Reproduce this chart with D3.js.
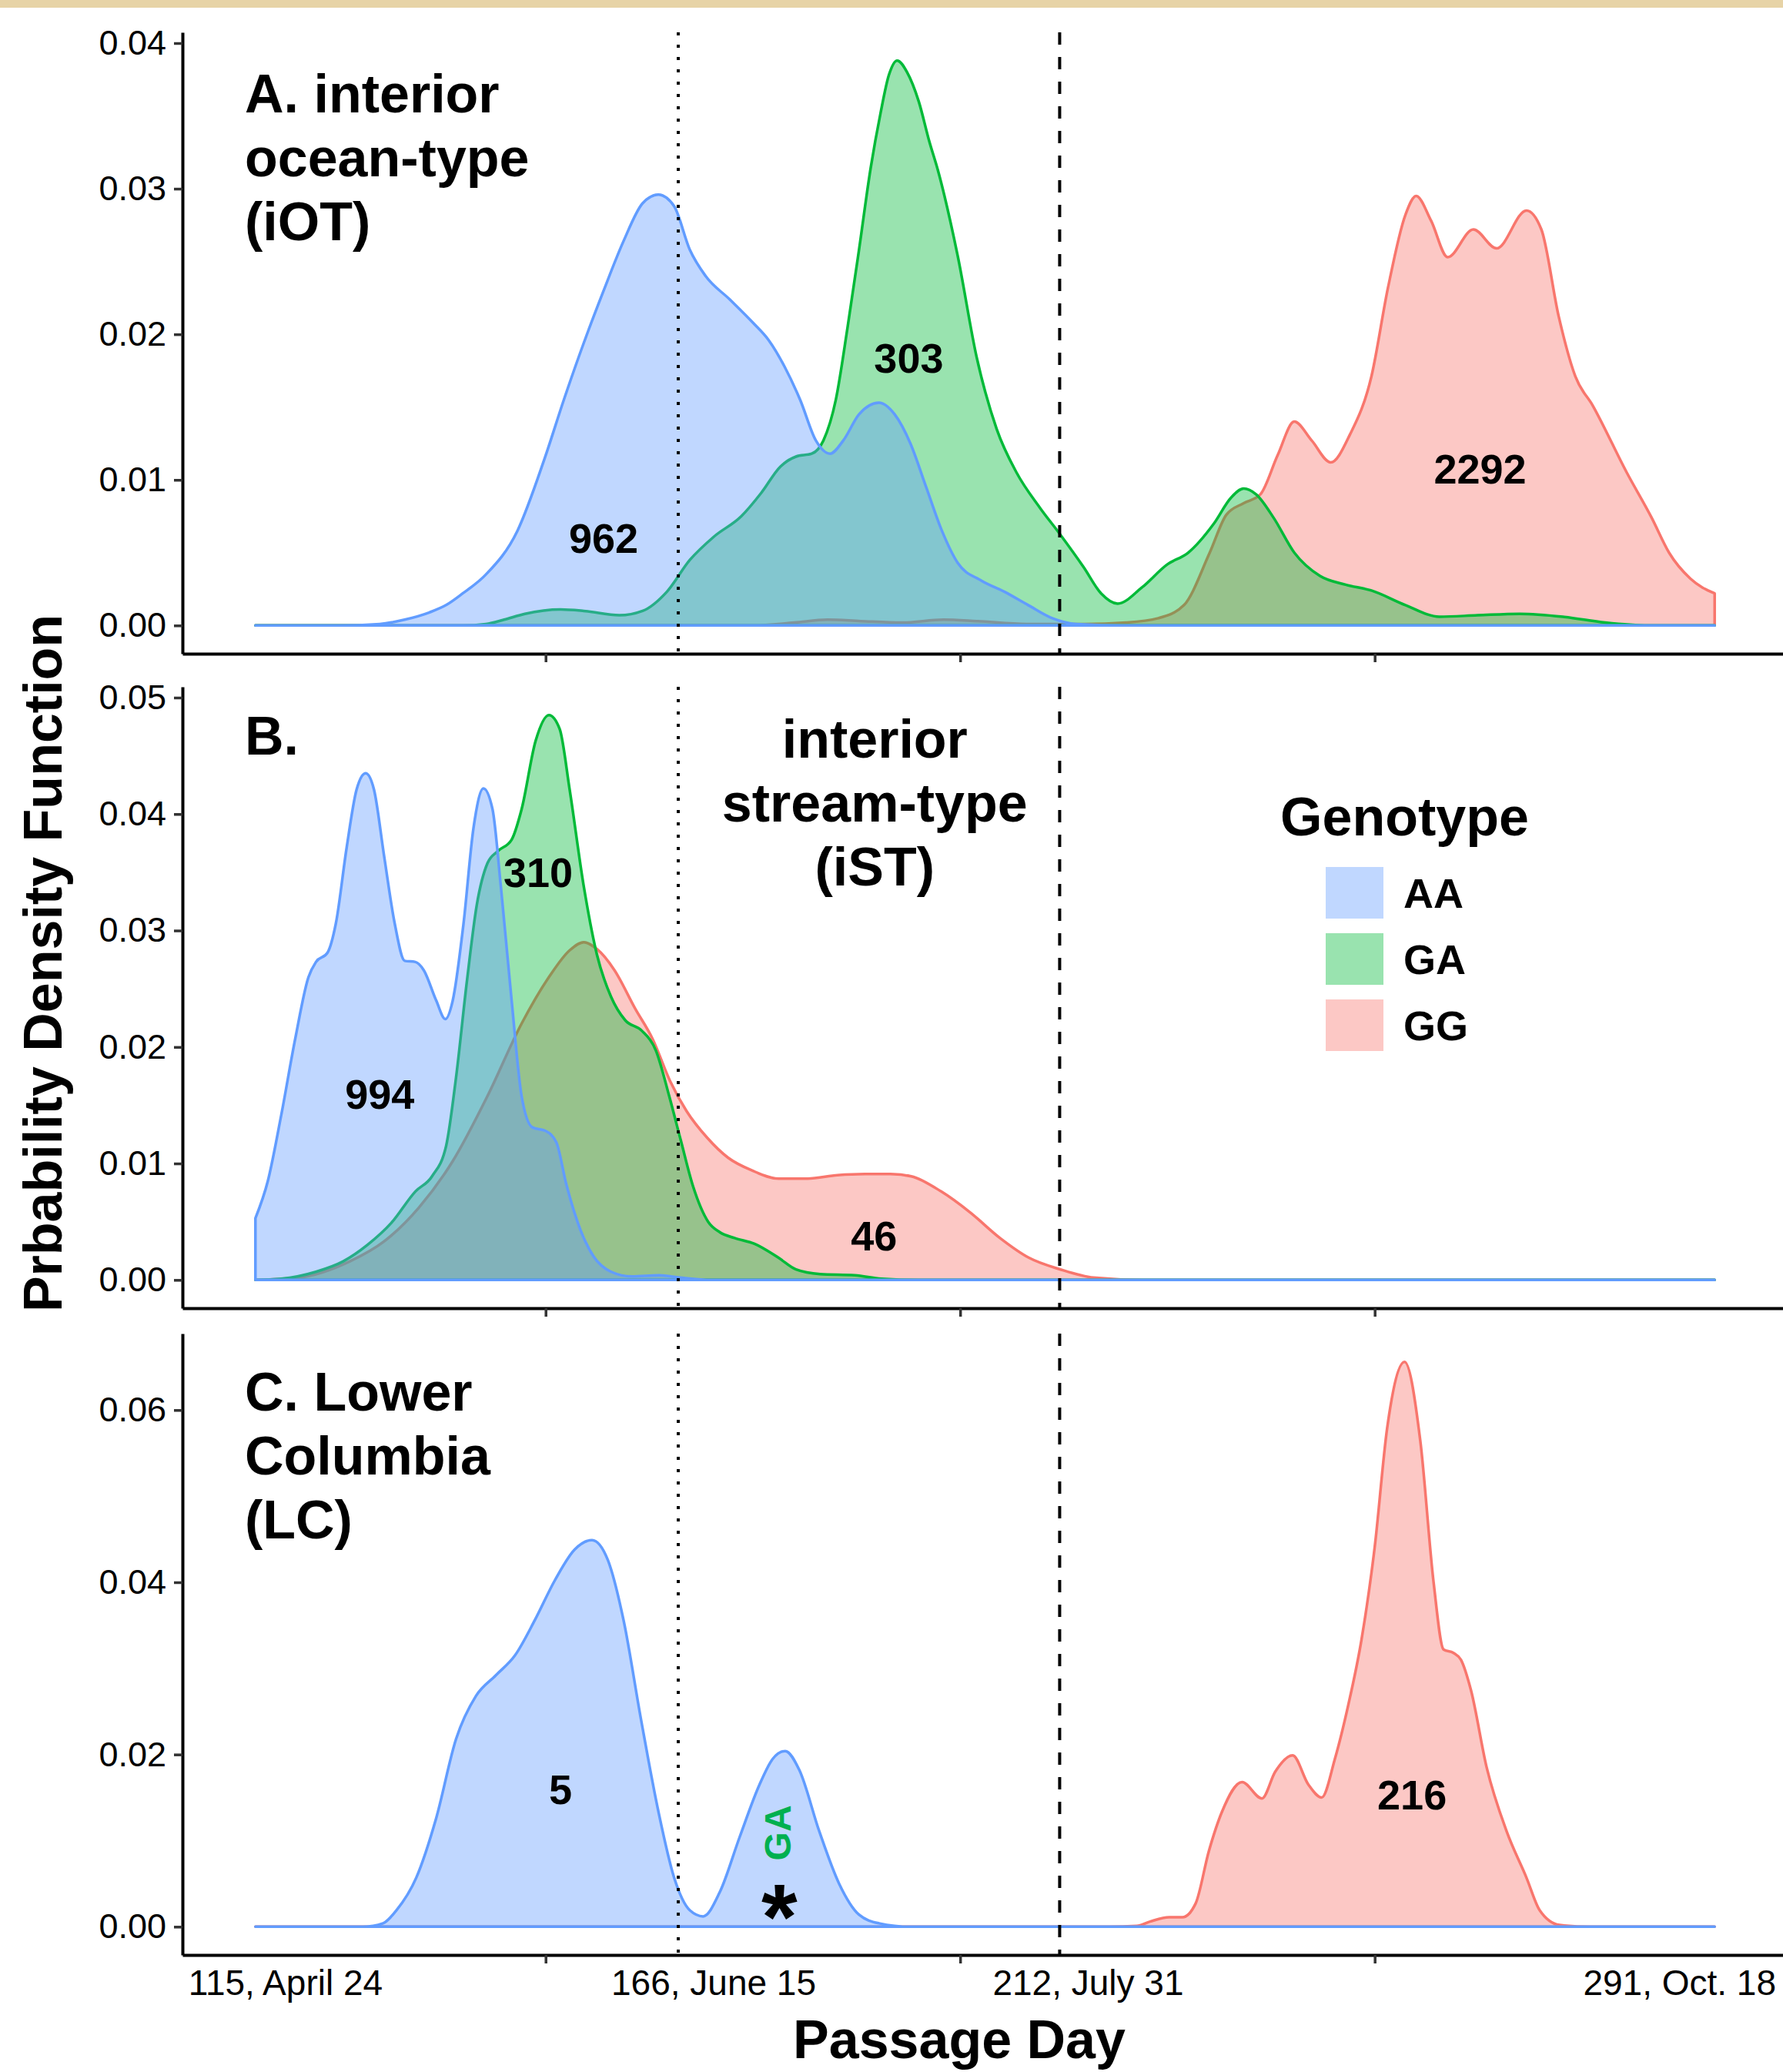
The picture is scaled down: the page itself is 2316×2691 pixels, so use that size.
<!DOCTYPE html>
<html>
<head>
<meta charset="utf-8">
<script src="https://cdn.jsdelivr.net/npm/d3@7"></script>
<style>
  body { margin: 0; background: #fff; }
  svg { display: block; }
  text { font-family: "Liberation Sans", Arial, Helvetica, sans-serif; }
</style>
</head>
<body>
<div id="chart"></div>
<script>
// genotype order (legend) and ggplot default hues
const genotypes = ["AA", "GA", "GG"];
const genoColors = { AA: "#619CFF", GA: "#00BA38", GG: "#F8766D" };

// [passage day, density]
// Panel A: interior ocean-type
const iotAA = [[115,0],[125,0],[130,0.0001],[133,0.0004],[136,0.0009],[138,0.0014],[140,0.0022],[142.8,0.0035],[146.6,0.0065],[149.9,0.0115],[152.2,0.0155],[154.6,0.0194],[157,0.0230],[159.4,0.0264],[161.7,0.0290],[163.6,0.0296],[165.5,0.0288],[167.4,0.0258],[169.3,0.0240],[172.2,0.0224],[175,0.0208],[176.9,0.0196],[178.8,0.0178],[180.7,0.0155],[182.6,0.0127],[184.3,0.0118],[185.9,0.0127],[187.8,0.0145],[190.2,0.0153],[192.1,0.0145],[194,0.0125],[195.9,0.0095],[197.8,0.0065],[199.7,0.0043],[202.5,0.0031],[205.4,0.0023],[208.2,0.0014],[211.1,0.0005],[214,0.0001],[220,0],[291,0]];
const iotGA = [[115,0],[140,0],[142.8,0.0001],[145,0.0004],[147.5,0.0008],[151.8,0.0011],[154.6,0.0010],[158.9,0.0007],[161.7,0.0010],[164.6,0.0023],[167.4,0.0045],[170.3,0.0061],[173.6,0.0075],[176,0.0091],[178.3,0.0109],[180.2,0.0116],[182.1,0.0118],[183.5,0.0127],[185,0.0155],[186.4,0.0204],[187.8,0.0258],[189.2,0.0314],[190.4,0.0352],[191.4,0.0378],[192.4,0.0388],[193.6,0.0380],[195,0.0360],[196.3,0.0332],[197.3,0.0313],[199.7,0.0254],[202,0.0184],[204.4,0.0135],[206.8,0.0105],[209.6,0.0081],[212,0.0063],[214.9,0.0040],[217,0.0022],[219,0.0015],[221.9,0.0026],[225,0.0042],[227.5,0.0050],[230.6,0.0070],[232.7,0.0088],[234.2,0.0094],[235.7,0.0090],[237.8,0.0074],[240.3,0.0050],[243.4,0.0034],[246.5,0.0028],[249.6,0.0024],[253.7,0.0014],[257.8,0.0006],[262.4,0.0007],[267.5,0.0008],[272.7,0.0006],[277.8,0.0002],[283,0],[291,0]];
const iotGG = [[115,0],[175,0],[180,0.0002],[184,0.0004],[188,0.0003],[193,0.0002],[198,0.0004],[202,0.0003],[208,0.0001],[215,0.0001],[220,0.0002],[223.9,0.0005],[227,0.0014],[230.1,0.0050],[232.1,0.0076],[234.2,0.0084],[236.2,0.0090],[238.3,0.0117],[240.3,0.0140],[242.4,0.0127],[244.7,0.0112],[247,0.0131],[249.6,0.0171],[251.6,0.0232],[253.7,0.0282],[255,0.0295],[256.8,0.0278],[258.8,0.0253],[261.9,0.0272],[264.7,0.0259],[268.3,0.0285],[270.1,0.0272],[272.2,0.0212],[274.2,0.0171],[276.3,0.0151],[280.4,0.0105],[283.4,0.0074],[285.5,0.0050],[288.1,0.0032],[291,0.0022]];

// Panel B: interior stream-type
const istAA = [[115,0.0053],[116.5,0.0085],[118.1,0.0141],[119.8,0.0207],[121.4,0.0260],[122.3,0.0273],[123.7,0.0281],[124.7,0.0306],[126,0.0371],[127.2,0.0421],[128.3,0.0435],[129.3,0.0421],[130.5,0.0365],[131.8,0.0306],[133,0.0274],[134.3,0.0273],[135.3,0.0266],[136.8,0.0240],[137.9,0.0224],[138.8,0.0240],[140.1,0.0306],[141.3,0.0388],[142.5,0.0422],[143.6,0.0404],[144.6,0.0338],[145.9,0.0240],[147.1,0.0158],[148.4,0.0131],[150,0.0128],[151.3,0.0118],[152.5,0.0082],[154.2,0.0043],[155.8,0.0020],[157.9,0.0007],[160.4,0.0003],[163.7,0.0004],[166.2,0.0002],[170,0],[291,0]];
const istGA = [[115,0],[118.1,0.0001],[122.3,0.0007],[125.6,0.0016],[128.5,0.0030],[131.4,0.0049],[134.3,0.0076],[136.3,0.0089],[138,0.0115],[139.2,0.0174],[140.5,0.0256],[141.7,0.0322],[143,0.0358],[144.2,0.0368],[145.9,0.0378],[147.1,0.0404],[148.8,0.0463],[150.4,0.0485],[151.7,0.0473],[152.9,0.0421],[154.6,0.0338],[156.2,0.0279],[157.9,0.0243],[159.6,0.0223],[161.6,0.0214],[163.3,0.0197],[164.9,0.0158],[166.3,0.0120],[167.8,0.0080],[169.6,0.0050],[171,0.0041],[172.8,0.0036],[175.2,0.0031],[178.1,0.0019],[180.2,0.0009],[183.1,0.0005],[187.3,0.0004],[190.5,0.0001],[195,0],[291,0]];
const istGG = [[115,0],[120.2,0.0002],[126.4,0.0016],[130.5,0.0033],[134.7,0.0062],[138.8,0.0102],[143,0.0158],[147.1,0.0220],[150.4,0.0260],[152.9,0.0283],[154.6,0.0290],[156.2,0.0284],[158.3,0.0266],[160.8,0.0233],[162.9,0.0207],[165,0.0171],[167,0.0145],[169.5,0.0122],[172,0.0105],[174.9,0.0094],[178.1,0.0087],[181.6,0.0087],[185.2,0.0090],[188.5,0.0091],[191.6,0.0091],[194.1,0.0089],[197.7,0.0076],[201.2,0.0058],[204.8,0.0036],[208.3,0.0019],[212.1,0.0009],[216.1,0.0002],[222,0],[291,0]];

// Panel C: Lower Columbia
const lcAA = [[115,0],[128,0],[130.4,0.0004],[132,0.0019],[134.4,0.0057],[136.8,0.0126],[139.2,0.0218],[141.6,0.0268],[144,0.0292],[146.3,0.0315],[148.7,0.0356],[151.1,0.0402],[153.5,0.0438],[155.6,0.0449],[157.5,0.0426],[159.4,0.0356],[161.5,0.0241],[163.6,0.0134],[165.5,0.0057],[167.4,0.0019],[169,0.0012],[171,0.0040],[173.4,0.0104],[175.8,0.0165],[177.4,0.0195],[178.9,0.0204],[180.6,0.0182],[183,0.0111],[185.4,0.0050],[187.8,0.0014],[190.2,0.0004],[194,0],[291,0]];
const lcGG = [[115,0],[218,0],[221.3,0.0001],[222.9,0.0006],[225.2,0.0011],[226.8,0.0011],[228.4,0.0027],[230,0.0088],[231.6,0.0134],[234,0.0168],[236.4,0.0149],[238,0.0180],[240.1,0.0199],[242,0.0165],[243.6,0.0150],[245.2,0.0195],[246.8,0.0257],[248.4,0.0333],[250,0.0441],[251.5,0.0579],[253.6,0.0656],[255.5,0.0564],[257.1,0.0400],[258.3,0.0322],[259.5,0.0318],[260.4,0.0310],[261.6,0.0275],[263.5,0.0185],[265.9,0.0111],[268.3,0.0057],[269.9,0.0019],[272.3,0.0002],[276,0],[291,0]];

// y tick values per panel
const yTicksA = [0, 0.01, 0.02, 0.03, 0.04];
const yTicksB = [0, 0.01, 0.02, 0.03, 0.04, 0.05];
const yTicksC = [0, 0.02, 0.04, 0.06];

// x axis: unlabelled tick marks, plus date labels
const xTickMarks = [150, 200, 250];
const xLabelDays = [115, 166, 212, 291];
const xLabels = ["115, April 24", "166, June 15", "212, July 31", "291, Oct. 18"];

// reference days (vertical lines)
const dottedDay = 166;
const dashedDay = 212;

// sample sizes: [day, density, text]
const countsA = [[157.0, 0.0060, "962"], [193.8, 0.0184, "303"], [262.7, 0.0108, "2292"]];
const countsB = [[130.0, 0.0160, "994"], [149.1, 0.0350, "310"], [189.6, 0.0038, "46"]];
const countsC = [[151.8, 0.0160, "5"], [254.5, 0.0154, "216"]];

const W = 2316, H = 2691;
const font = '"Liberation Sans", Arial, Helvetica, sans-serif';

const svg = d3.select("#chart").append("svg")
    .attr("width", W)
    .attr("height", H);

svg.append("rect").attr("width", W).attr("height", H).attr("fill", "#fff");
// textured paper strip on top edge
svg.append("rect").attr("width", W).attr("height", 10).attr("fill", "#e7d3a6");

const x = d3.scaleLinear().domain([106.2, 299.8]).range([237, 2322]);

const panels = [
    { top: 42, bottom: 849, series: { AA: iotAA, GA: iotGA, GG: iotGG }, ticks: yTicksA, counts: countsA },
    { top: 892, bottom: 1699, series: { AA: istAA, GA: istGA, GG: istGG }, ticks: yTicksB, counts: countsB },
    { top: 1732, bottom: 2539, series: { AA: lcAA, GG: lcGG }, ticks: yTicksC, counts: countsC }
];

panels.forEach((p, i) => {
    const maxV = d3.max(Object.values(p.series), s => d3.max(s, d => d[1]));
    const pad = maxV * 0.05;
    const y = d3.scaleLinear().domain([-pad, maxV + pad]).range([p.bottom, p.top]);
    p.y = y;
    const g = svg.append("g").attr("class", "panel-" + i);

    const area = d3.area()
        .x(d => x(d[0]))
        .y0(y(0))
        .y1(d => y(d[1]))
        .curve(d3.curveMonotoneX);

    // GG first, AA last (on top)
    ["GG", "GA", "AA"].forEach(k => {
        if (!p.series[k]) return;
        g.append("path")
            .datum(p.series[k])
            .attr("d", area)
            .attr("fill", genoColors[k])
            .attr("fill-opacity", 0.4)
            .attr("stroke", genoColors[k])
            .attr("stroke-width", 3.5)
            .attr("stroke-linejoin", "round");
    });

    // reference lines
    g.append("line")
        .attr("x1", x(dottedDay)).attr("x2", x(dottedDay))
        .attr("y1", p.top).attr("y2", p.bottom)
        .attr("stroke", "#000").attr("stroke-width", 4)
        .attr("stroke-dasharray", "4,12");
    g.append("line")
        .attr("x1", x(dashedDay)).attr("x2", x(dashedDay))
        .attr("y1", p.top).attr("y2", p.bottom)
        .attr("stroke", "#000").attr("stroke-width", 4)
        .attr("stroke-dasharray", "16,16");

    // axes
    const yAxis = g.append("g")
        .attr("transform", `translate(${x.range()[0]},0)`)
        .call(d3.axisLeft(y)
            .tickValues(p.ticks)
            .tickFormat(d3.format(".2f"))
            .tickSize(11)
            .tickSizeOuter(0)
            .tickPadding(10));
    const xAxis = g.append("g")
        .attr("transform", `translate(0,${p.bottom})`)
        .call(d3.axisBottom(x)
            .tickValues(xTickMarks)
            .tickFormat("")
            .tickSize(11)
            .tickSizeOuter(0));

    [yAxis, xAxis].forEach(a => {
        a.select(".domain").attr("stroke", "#000").attr("stroke-width", 4);
        a.selectAll(".tick line").attr("stroke", "#333").attr("stroke-width", 3.5);
        a.selectAll("text")
            .attr("fill", "#000")
            .style("font-family", font)
            .style("font-size", "45px");
    });

    // sample size labels
    g.selectAll(".count")
        .data(p.counts)
        .enter()
        .append("text")
        .attr("class", "count")
        .attr("x", d => x(d[0]))
        .attr("y", d => y(d[1]))
        .attr("dy", "0.36em")
        .attr("text-anchor", "middle")
        .style("font-size", "54px")
        .style("font-weight", "bold")
        .text(d => d[2]);
});

// panel titles
function titleBlock(lines, px, py, anchor) {
    const t = svg.append("text")
        .attr("x", px).attr("y", py)
        .attr("text-anchor", anchor)
        .style("font-size", "70px")
        .style("font-weight", "bold");
    lines.forEach((l, i) => {
        t.append("tspan").attr("x", px).attr("dy", i === 0 ? 0 : 83).text(l);
    });
}
titleBlock(["A. interior", "ocean-type", "(iOT)"], 318, 146, "start");
titleBlock(["B."], 318, 980, "start");
titleBlock(["interior", "stream-type", "(iST)"], x(189.7), 984, "middle");
titleBlock(["C. Lower", "Columbia", "(LC)"], 318, 1832, "start");

// panel C extra note: single GA fish
const pc = panels[2];
svg.append("text")
    .attr("transform", `translate(${x(178.0) + 17},${pc.y(0.0109)}) rotate(-90)`)
    .attr("text-anchor", "middle")
    .attr("fill", "#00B04F")
    .style("font-size", "48px")
    .style("font-weight", "bold")
    .text("GA");
svg.append("text")
    .attr("x", x(178.2))
    .attr("y", pc.y(0.0034))
    .attr("dy", "0.56em")
    .attr("text-anchor", "middle")
    .style("font-size", "120px")
    .style("font-weight", "bold")
    .text("*");

// legend
const legend = svg.append("g");
legend.append("text")
    .attr("x", 1663).attr("y", 1085)
    .style("font-size", "70px")
    .style("font-weight", "bold")
    .text("Genotype");
genotypes.forEach((k, i) => {
    const ky = 1126 + i * 86;
    legend.append("rect")
        .attr("x", 1722).attr("y", ky)
        .attr("width", 75).attr("height", 67)
        .attr("fill", genoColors[k])
        .attr("fill-opacity", 0.4);
    legend.append("text")
        .attr("x", 1823).attr("y", ky + 33.5 + 19)
        .style("font-size", "54px")
        .style("font-weight", "bold")
        .text(k);
});

// x date labels below bottom panel
svg.selectAll(".xlab")
    .data(xLabelDays)
    .enter()
    .append("text")
    .attr("class", "xlab")
    .attr("y", 2591)
    .style("font-size", "46px")
    .text((d, i) => xLabels[i])
    .attr("x", function (d) {
        const w = this.getComputedTextLength();
        return Math.min(x(d) - 87, 2307 - w);
    });

// axis titles
svg.append("text")
    .attr("transform", "translate(80,1251) rotate(-90)")
    .attr("text-anchor", "middle")
    .style("font-size", "70px")
    .style("font-weight", "bold")
    .text("Prbability Density Function");
svg.append("text")
    .attr("x", 1246).attr("y", 2673)
    .attr("text-anchor", "middle")
    .style("font-size", "70px")
    .style("font-weight", "bold")
    .text("Passage Day");
</script>
</body>
</html>
